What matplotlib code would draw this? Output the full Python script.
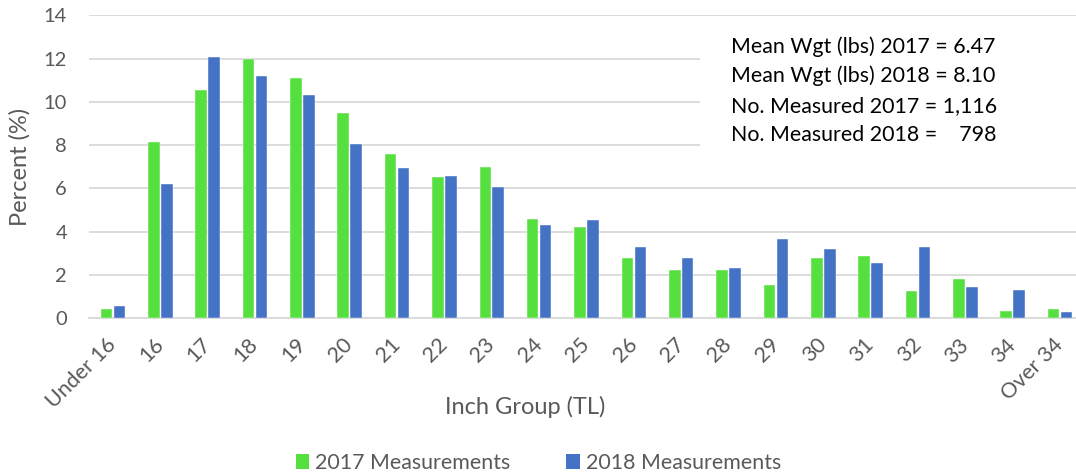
import matplotlib
matplotlib.use("Agg")
import matplotlib.pyplot as plt
import numpy as np
from matplotlib.patches import Rectangle, Patch

categories = ["Under 16", "16", "17", "18", "19", "20", "21", "22", "23", "24", "25",
              "26", "27", "28", "29", "30", "31", "32", "33", "34", "Over 34"]
pct_2017 = [0.43, 8.14, 10.55, 12.0, 11.10, 9.48, 7.60, 6.52, 6.98, 4.56, 4.21,
            2.78, 2.22, 2.22, 1.51, 2.78, 2.87, 1.25, 1.79, 0.34, 0.43]
pct_2018 = [0.55, 6.18, 12.06, 11.18, 10.30, 8.05, 6.92, 6.55, 6.04, 4.29, 4.55,
            3.28, 2.79, 2.30, 3.67, 3.18, 2.53, 3.28, 1.42, 1.28, 0.28]
series_names = ["2017 Measurements", "2018 Measurements"]
stats_lines = ["Mean Wgt (lbs) 2017 = 6.47",
               "Mean Wgt (lbs) 2018 = 8.10",
               "No. Measured 2017 = 1,116",
               "No. Measured 2018 =    798"]
y_ticks = [0, 2, 4, 6, 8, 10, 12, 14]

GREEN = "#56E040"
BLUE = "#4472C4"
GRAY = "#595959"
GRID = "#D9D9D9"

plt.rcParams['font.family'] = ['Lato', 'DejaVu Sans']

fig = plt.figure(figsize=(10.76, 4.76), dpi=100)
W, H = 1076, 476
ax = fig.add_axes([89.3 / W, (H - 318) / H, (1083.7 - 89.3) / W, (318 - 15.3) / H])

x = np.arange(len(categories))
bw = 0.245
off = 0.137
ax.bar(x - off, pct_2017, width=bw, color=GREEN, zorder=3, edgecolor="white", linewidth=0.3)
ax.bar(x + off, pct_2018, width=bw, color=BLUE, zorder=3, edgecolor="white", linewidth=0.3)

ax.set_xlim(-0.5, len(categories) - 0.5)
ax.set_ylim(0, 14)
ax.set_yticks(y_ticks)
ax.set_yticklabels([str(v) for v in y_ticks], fontsize=14.5, color=GRAY)
ax.yaxis.grid(True, color=GRID, linewidth=1.3, zorder=0)
ax.set_axisbelow(True)
for s in ["top", "right", "left"]:
    ax.spines[s].set_visible(False)
ax.spines["bottom"].set_color(GRID)
ax.spines["bottom"].set_linewidth(1.3)
ax.tick_params(axis="y", length=0, pad=16)
ax.tick_params(axis="x", length=0, pad=17)
ax.set_xticks(x)
ax.set_xticklabels(categories, rotation=45, ha="right", rotation_mode="anchor",
                   fontsize=15.5, color=GRAY)
for lbl in ax.get_xticklabels():
    lbl.set_va("center")

# white box behind stats text
ax.add_patch(Rectangle((700 / W, (H - 175) / H), 1 - 700 / W, 150 / H,
                       transform=fig.transFigure, facecolor="white", edgecolor="none", zorder=2))
ys = [47, 76, 106, 135]
for t, yy in zip(stats_lines, ys):
    fig.text(731 / W, (H - yy) / H, t, fontsize=15.4, color="black", va="center", ha="left")

fig.text(20 / W, (H - 167) / H, "Percent (%)", rotation=90, fontsize=17, color=GRAY,
         va="center", ha="center")
fig.text(525 / W, (H - 407) / H, "Inch Group (TL)", fontsize=17, color=GRAY,
         va="center", ha="center")

handles = [Patch(facecolor=GREEN), Patch(facecolor=BLUE)]
fig.legend(handles, series_names, loc="center", bbox_to_anchor=(538.5 / W, (H - 463) / H),
           ncol=2, frameon=False, fontsize=15.4, labelcolor=GRAY,
           handlelength=0.65, handleheight=0.75, handletextpad=0.28, columnspacing=2.6,
           borderpad=0.1)

fig.savefig("out.png", dpi=100)
